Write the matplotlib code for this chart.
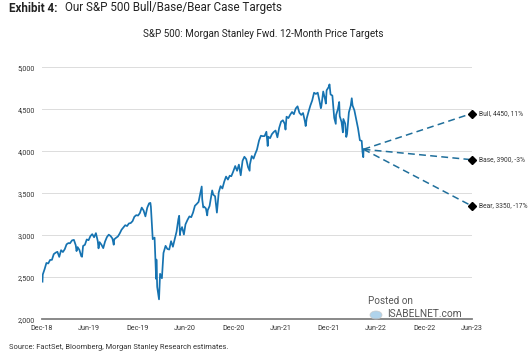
import matplotlib
matplotlib.use("Agg")
import matplotlib.pyplot as plt
import pandas as pd
from matplotlib.patches import Circle

plt.rcParams['font.family'] = ['Roboto', 'DejaVu Sans']

# ---------------- data ----------------
dates = [
    "2019-01-03", "2019-01-04", "2019-01-11", "2019-01-18", "2019-01-25", "2019-02-01", "2019-02-08",
    "2019-02-15", "2019-02-22", "2019-03-01", "2019-03-08", "2019-03-15", "2019-03-22", "2019-03-29",
    "2019-04-05", "2019-04-12", "2019-04-18", "2019-04-26", "2019-05-03", "2019-05-10", "2019-05-13",
    "2019-05-17", "2019-05-24", "2019-05-31", "2019-06-03", "2019-06-07", "2019-06-14", "2019-06-21",
    "2019-06-28", "2019-07-05", "2019-07-12", "2019-07-19", "2019-07-26", "2019-08-02", "2019-08-05",
    "2019-08-09", "2019-08-16", "2019-08-23", "2019-08-30", "2019-09-06", "2019-09-13", "2019-09-20",
    "2019-09-27", "2019-10-02", "2019-10-04", "2019-10-11", "2019-10-18", "2019-10-25", "2019-11-01",
    "2019-11-08", "2019-11-15", "2019-11-22", "2019-11-29", "2019-12-06", "2019-12-13", "2019-12-20",
    "2019-12-27", "2020-01-03", "2020-01-10", "2020-01-17", "2020-01-24", "2020-01-31", "2020-02-07",
    "2020-02-14", "2020-02-19", "2020-02-21", "2020-02-28", "2020-03-06", "2020-03-12", "2020-03-13",
    "2020-03-16", "2020-03-20", "2020-03-23", "2020-03-27", "2020-04-03", "2020-04-09", "2020-04-17",
    "2020-04-24", "2020-05-01", "2020-05-08", "2020-05-15", "2020-05-22", "2020-05-29", "2020-06-05",
    "2020-06-08", "2020-06-11", "2020-06-12", "2020-06-19", "2020-06-26", "2020-07-02", "2020-07-10",
    "2020-07-17", "2020-07-24", "2020-07-31", "2020-08-07", "2020-08-14", "2020-08-21", "2020-08-28",
    "2020-09-02", "2020-09-04", "2020-09-08", "2020-09-11", "2020-09-18", "2020-09-23", "2020-09-25",
    "2020-10-02", "2020-10-09", "2020-10-12", "2020-10-16", "2020-10-23", "2020-10-30", "2020-11-06",
    "2020-11-13", "2020-11-20", "2020-11-27", "2020-12-04", "2020-12-11", "2020-12-18", "2020-12-24",
    "2020-12-31", "2021-01-08", "2021-01-15", "2021-01-22", "2021-01-29", "2021-02-05", "2021-02-12",
    "2021-02-19", "2021-02-26", "2021-03-04", "2021-03-05", "2021-03-12", "2021-03-19", "2021-03-26",
    "2021-04-01", "2021-04-09", "2021-04-16", "2021-04-23", "2021-04-30", "2021-05-07", "2021-05-12",
    "2021-05-14", "2021-05-21", "2021-05-28", "2021-06-04", "2021-06-11", "2021-06-18", "2021-06-25",
    "2021-07-02", "2021-07-09", "2021-07-16", "2021-07-19", "2021-07-23", "2021-07-30", "2021-08-06",
    "2021-08-13", "2021-08-20", "2021-08-27", "2021-09-03", "2021-09-10", "2021-09-17", "2021-09-24",
    "2021-10-01", "2021-10-04", "2021-10-08", "2021-10-15", "2021-10-22", "2021-10-29", "2021-11-05",
    "2021-11-12", "2021-11-19", "2021-11-26", "2021-12-01", "2021-12-03", "2021-12-10", "2021-12-17",
    "2021-12-20", "2021-12-23", "2021-12-31", "2022-01-03", "2022-01-07", "2022-01-14", "2022-01-21",
    "2022-01-27", "2022-01-28", "2022-02-04", "2022-02-09", "2022-02-11", "2022-02-18", "2022-02-23",
    "2022-02-25", "2022-03-04", "2022-03-08", "2022-03-11", "2022-03-18", "2022-03-25", "2022-03-29",
    "2022-04-01", "2022-04-08", "2022-04-14", "2022-04-22", "2022-04-29", "2022-05-06", "2022-05-09",
    "2022-05-12", "2022-05-13",
]
spx = [
    2447.89, 2531.94, 2596.26, 2670.71, 2664.76, 2706.53, 2707.88,
    2775.60, 2792.67, 2803.69, 2743.07, 2822.48, 2800.71, 2834.40,
    2892.74, 2907.41, 2905.03, 2939.88, 2945.64, 2881.40, 2811.87,
    2859.53, 2826.06, 2752.06, 2744.45, 2873.34, 2886.98, 2950.46,
    2941.76, 2990.41, 3013.77, 2976.61, 3025.86, 2932.05, 2844.74,
    2918.65, 2888.68, 2847.11, 2926.46, 2978.71, 3007.39, 2992.07,
    2961.79, 2887.61, 2952.01, 2970.27, 2986.20, 3022.55, 3066.91,
    3093.08, 3120.46, 3110.29, 3140.98, 3145.91, 3168.80, 3221.22,
    3240.02, 3234.85, 3265.35, 3329.62, 3295.47, 3225.52, 3327.71,
    3380.16, 3386.15, 3337.75, 2954.22, 2972.37, 2480.64, 2711.02,
    2386.13, 2304.92, 2237.40, 2541.47, 2488.65, 2789.82, 2874.56,
    2836.74, 2830.71, 2929.80, 2863.70, 2955.45, 3044.31, 3193.93,
    3232.39, 3002.10, 3041.31, 3097.74, 3009.05, 3130.01, 3185.04,
    3224.73, 3215.63, 3271.12, 3351.28, 3372.85, 3397.16, 3508.01,
    3580.84, 3426.96, 3331.84, 3340.97, 3319.47, 3236.92, 3298.46,
    3348.44, 3477.13, 3534.22, 3483.81, 3465.39, 3269.96, 3509.44,
    3585.15, 3557.54, 3638.35, 3699.12, 3663.46, 3709.41, 3703.06,
    3756.07, 3824.68, 3768.25, 3841.47, 3714.24, 3886.83, 3934.83,
    3906.71, 3811.15, 3768.47, 3841.94, 3943.34, 3913.10, 3974.54,
    4019.87, 4128.80, 4185.47, 4180.17, 4181.17, 4232.60, 4063.04,
    4173.85, 4155.86, 4204.11, 4229.89, 4247.44, 4166.45, 4280.70,
    4352.34, 4369.55, 4327.16, 4258.49, 4411.79, 4395.26, 4436.52,
    4468.00, 4441.67, 4509.37, 4535.43, 4458.58, 4432.99, 4455.48,
    4357.04, 4300.46, 4391.34, 4471.37, 4544.90, 4605.38, 4697.53,
    4682.85, 4697.96, 4594.62, 4513.04, 4538.43, 4712.02, 4620.64,
    4568.02, 4725.79, 4766.18, 4796.56, 4677.03, 4662.85, 4397.94,
    4326.51, 4431.85, 4500.53, 4587.18, 4418.64, 4348.87, 4225.50,
    4384.65, 4328.87, 4170.70, 4204.31, 4463.12, 4543.06, 4631.60,
    4545.86, 4488.28, 4392.59, 4271.78, 4131.93, 4123.34, 3991.24,
    3930.08, 4023.89,
]

scenario_start_date = "2022-05-13"
scenario_start_value = 4023.89
target_date = "2023-06-30"
scenarios = ["Bull", "Base", "Bear"]
targets = [4450, 3900, 3350]
target_pct = ["11%", "-3%", "-17%"]

tick_dates = ["2018-12-31", "2019-06-30", "2019-12-31", "2020-06-30", "2020-12-31",
              "2021-06-30", "2021-12-31", "2022-06-30", "2022-12-31", "2023-06-30"]
tick_labels = ["Dec-18", "Jun-19", "Dec-19", "Jun-20", "Dec-20",
               "Jun-21", "Dec-21", "Jun-22", "Dec-22", "Jun-23"]
y_ticks = [2000, 2500, 3000, 3500, 4000, 4500, 5000]

# ---------------- figure ----------------
W, H = 532, 355
fig = plt.figure(figsize=(W / 100, H / 100), dpi=100)
ax = fig.add_axes([41.7 / W, (H - 319.3) / H, 430 / W, 252 / H])

line_color = "#1673b1"
dash_color = "#206f9b"
d = pd.to_datetime(dates)
ax.plot(d, spx, color=line_color, lw=1.25, solid_joinstyle="round", zorder=3)

for name, tgt, pct in zip(scenarios, targets, target_pct):
    xs = pd.to_datetime([scenario_start_date, target_date])
    ax.plot(xs, [scenario_start_value, tgt], color=dash_color, lw=1.1,
            dashes=(4.5, 2.8), zorder=2, clip_on=False)
    ax.plot(xs[1:], [tgt], marker="D", ms=3.8, color="black", zorder=4, clip_on=False)
    ax.annotate(f"{name}, {tgt}, {pct}", xy=(xs[1], tgt), xytext=(5.5, 0),
                textcoords="offset points", fontsize=4.8, color="#333333",
                va="center", ha="left", annotation_clip=False)

ax.set_xlim(pd.Timestamp(tick_dates[0]), pd.Timestamp(tick_dates[-1]))
ax.set_ylim(2000, 5000)
ax.set_xticks(pd.to_datetime(tick_dates))
ax.set_xticklabels(tick_labels)
ax.set_yticks(y_ticks)
ax.set_yticklabels([f"{v:,}" for v in y_ticks])
ax.tick_params(axis="both", length=0, labelsize=5.1, labelcolor="#333333")
ax.tick_params(axis="x", pad=4)
ax.tick_params(axis="y", pad=5)

for v in y_ticks[1:]:
    ax.axhline(v, color="#dcdcdc", lw=0.7, zorder=1)
for s in ["top", "right", "left"]:
    ax.spines[s].set_visible(False)
ax.spines["bottom"].set_color("#808080")
ax.spines["bottom"].set_linewidth(1.3)
ax.set_facecolor("white")

# ---------------- texts ----------------
fig.text(9 / W, 1 - 8 / H, "Exhibit 4:", fontsize=8.4, fontweight="bold",
         color="#222222", va="center", ha="left")
fig.text(65 / W, 1 - 8 / H, "Our S&P 500 Bull/Base/Bear Case Targets", fontsize=8.4,
         color="#222222", va="center", ha="left")
fig.text(263 / W, 1 - 34 / H, "S&P 500: Morgan Stanley Fwd. 12-Month Price Targets",
         fontsize=7.1, color="#222222", va="center", ha="center")
fig.text(9 / W, 1 - 347.5 / H,
         "Source: FactSet, Bloomberg, Morgan Stanley Research estimates.",
         fontsize=5.4, color="#333333", va="center", ha="left")

# watermark
fig.text(368 / W, 1 - 300.5 / H, "Posted on", fontsize=7.1, color="#555555",
         va="center", ha="left")
fig.text(387 / W, 1 - 314 / H, "ISABELNET.com", fontsize=7.3, color="#555555",
         va="center", ha="left")
fig.patches.append(Circle((376 / W, 1 - 315 / H), 6 / W, transform=fig.transFigure,
                          facecolor="#9cc8e6", edgecolor="#c9c9c9", lw=0.6, alpha=0.8,
                          zorder=5))

fig.savefig("out.png", dpi=100, facecolor="white")
